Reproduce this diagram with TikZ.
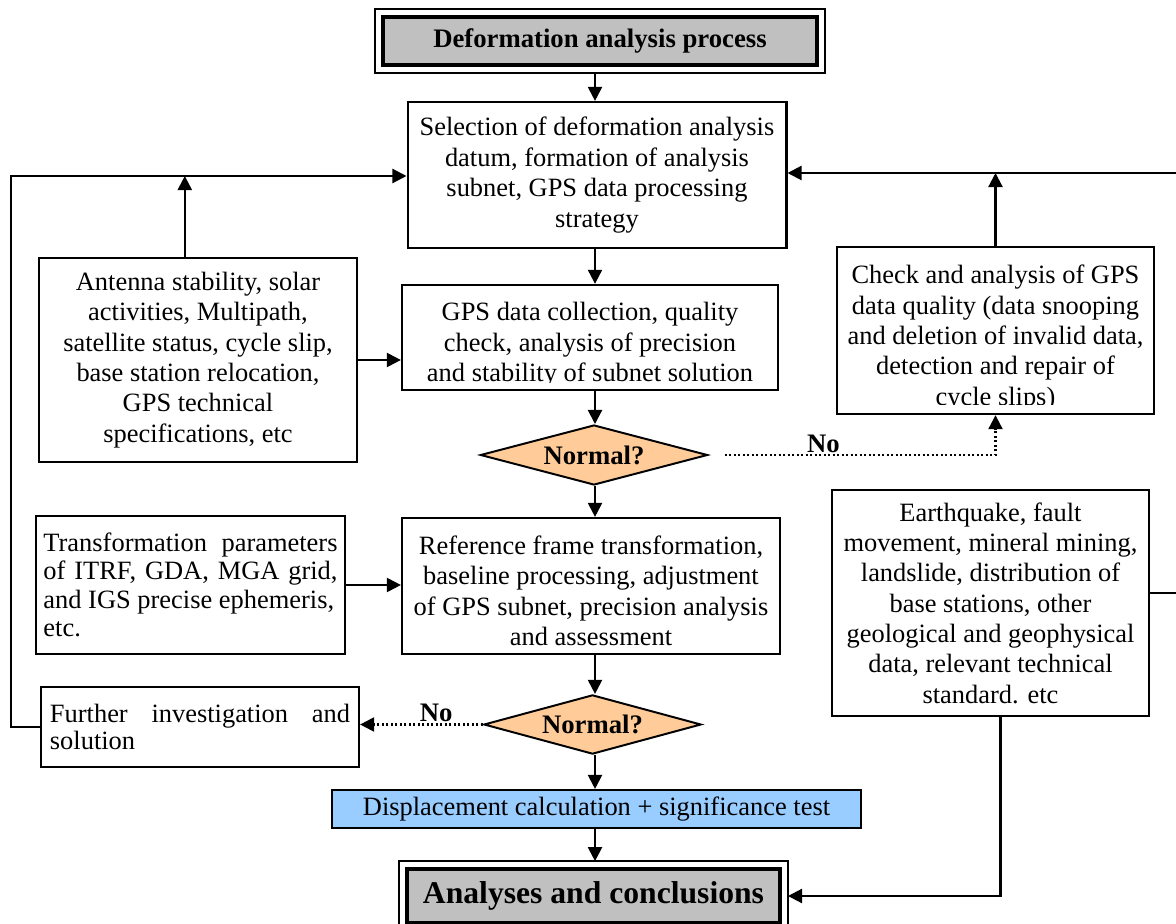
\documentclass[tikz,border=0pt]{standalone}
\usepackage{fontspec}
\setmainfont{Liberation Serif}
\usetikzlibrary{arrows.meta, shapes.geometric}

\definecolor{boxgray}{RGB}{192,192,192}
\definecolor{peach}{RGB}{255,204,153}
\definecolor{skyblue}{RGB}{153,204,255}

\begin{document}
\setlength{\lineskiplimit}{-20pt}
\begin{tikzpicture}[
    x=0.025cm, y=-0.025cm,
    box/.style={rectangle, draw=black, line width=1.5pt, fill=white, align=center, inner sep=3pt, font=\fontsize{18.8}{21.6}\selectfont},
    boxtext/.style={align=center, inner sep=0pt, font=\fontsize{18.8}{21.6}\selectfont},
    headbox/.style={rectangle, draw=black, line width=2.6pt, fill=boxgray, font=\fontsize{19}{22}\selectfont\bfseries},
    decision/.style={diamond, draw=black, line width=1.4pt, fill=peach, aspect=3.8, inner sep=0pt, font=\fontsize{19}{22}\selectfont\bfseries},
    arr/.style={draw, line width=1.5pt, -{Triangle[length=10pt, width=10pt]}},
    dotarr/.style={arr, dash pattern=on 1.6pt off 1.6pt},
    nolabel/.style={font=\fontsize{19}{22}\selectfont\bfseries, inner sep=1pt},
]
    \useasboundingbox (0,0) rectangle (1176,924);

    % Main column
    \node[headbox, minimum width=10.85cm, minimum height=1.2cm] (title) at (600,41) {Deformation analysis process};
    \node[box, minimum width=9.47cm, minimum height=3.65cm] (select) at (597,175) {Selection of deformation analysis\\ datum, formation of analysis\\ subnet, GPS data processing\\ strategy};
    \node[box, minimum width=9.4cm, minimum height=2.63cm] (gps) at (590,337.5) {};
    \begin{scope}
        \clip (gps.north west) rectangle ([yshift=0.22cm]gps.south east);
        \node[boxtext] (gpstext) at (590,345) {GPS data collection, quality\\ check, analysis of precision\\ and stability of subnet solution};
    \end{scope}
    \node[decision, minimum width=5.68cm, minimum height=1.5cm] (d1) at (594,455) {Normal?};
    \node[box, minimum width=9.45cm, minimum height=3.4cm] (transform) at (591,586) {};
    \node[boxtext] (transformtext) at (591,591) {Reference frame transformation,\\ baseline processing, adjustment\\ of GPS subnet, precision analysis\\ and assessment};
    \node[decision, minimum width=5.43cm, minimum height=1.48cm] (d2) at (592.5,724.5) {Normal?};
    \node[box, fill=skyblue, minimum width=13.2cm, minimum height=0.95cm, inner sep=1pt] (disp) at (596.5,809) {Displacement calculation + significance test};
    \node[headbox, minimum width=9.33cm, minimum height=1.35cm, font=\fontsize{22.5}{26}\selectfont\bfseries] (concl) at (593.5,896) {Analyses and conclusions};

    % Outer frames
    \draw[line width=1pt] ([shift={(-0.15cm,0.15cm)}]title.north west) rectangle ([shift={(0.15cm,-0.15cm)}]title.south east);
    \draw[line width=1pt] ([shift={(-0.15cm,0.15cm)}]concl.north west) rectangle ([shift={(0.15cm,-0.15cm)}]concl.south east);

    % Side boxes
    \node[box, minimum width=7.95cm, minimum height=5.1cm] (antenna) at (198,360) {Antenna stability, solar\\ activities, Multipath,\\ satellite status, cycle slip,\\ base station relocation,\\ GPS technical\\ specifications, etc};
    \node[box, minimum width=7.72cm, minimum height=3.45cm, align=left, font=\fontsize{18.8}{20.2}\selectfont] (params) at (190.5,585) {\makebox[7.35cm][s]{Transformation parameters}\\ \makebox[7.35cm][s]{of ITRF, GDA, MGA grid,}\\ and IGS precise ephemeris,\\ etc.};
    \node[box, minimum width=7.95cm, minimum height=2.0cm, align=left, font=\fontsize{18.8}{19.5}\selectfont] (further) at (200,727) {\makebox[7.5cm][s]{Further investigation and}\\ solution};
    \node[box, minimum width=7.93cm, minimum height=4.18cm] (check) at (995.5,330.5) {};
    \begin{scope}
        \clip (check.north west) rectangle ([yshift=0.27cm]check.south east);
        \node[boxtext] (checktext) at (995.5,338) {Check and analysis of GPS\\ data quality (data snooping\\ and deletion of invalid data,\\ detection and repair of\\ cycle slips)};
    \end{scope}
    \node[box, minimum width=7.93cm, minimum height=5.65cm] (quake) at (990.5,603) {Earthquake, fault\\ movement, mineral mining,\\ landslide, distribution of\\ base stations, other\\ geological and geophysical\\ data, relevant technical\\ standard. etc};

    % Helper points
    \coordinate (spine) at (595,0);
    \coordinate (ltop) at (11,176);
    \coordinate (rtop) at (1179,173);
    \coordinate (titlebot) at ([yshift=-0.15cm]title.south);
    \coordinate (concltop) at ([yshift=0.15cm]concl.north);
    \coordinate (conclright) at ([xshift=0.15cm]concl.east);

    % Main flow
    \draw[arr] (titlebot -| spine) -- (select.north -| spine);
    \draw[arr] (select.south -| spine) -- (gps.north -| spine);
    \draw[arr] (gps.south -| spine) -- (d1.north -| spine);
    \draw[arr] (d1.south -| spine) -- (transform.north -| spine);
    \draw[arr] (transform.south -| spine) -- (d2.north -| spine);
    \draw[arr] (d2.south -| spine) -- (disp.north -| spine);
    \draw[arr] (disp.south -| spine) -- (concltop -| spine);

    % Inputs
    \draw[arr] (antenna.east) -- (antenna.east -| gps.west);
    \draw[arr] (params.east) -- (params.east -| transform.west);

    % No branches
    \draw[dotarr, shorten <=0.4cm] (d1.east) -| (check.south) node[nolabel, pos=0.2, above] {No};
    \draw[dotarr] (d2.west) -- (d2.west -| further.east) node[nolabel, pos=0.38, above] {No};

    % Feedback loops
    \draw[arr] (check.north) -- (check.north |- rtop);
    \draw[arr] ([yshift=0.25cm]quake.east) -| (rtop) -- (select.east |- rtop);
    \draw[arr] (further.west) -| (ltop) -- (ltop -| select.west);
    \draw[arr] ([xshift=-0.33cm]antenna.north) -- ([xshift=-0.33cm]antenna.north |- ltop);
    \draw[arr] ([xshift=0.25cm]quake.south) |- (conclright);
\end{tikzpicture}
\end{document}
